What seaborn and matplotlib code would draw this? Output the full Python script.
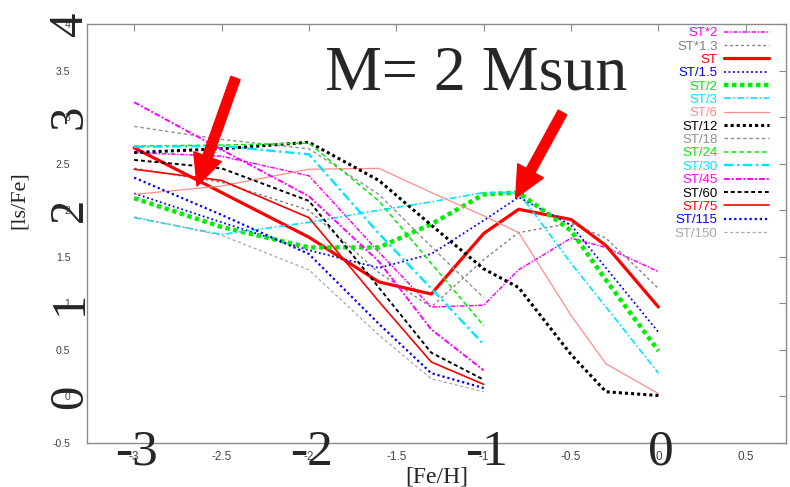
import matplotlib
matplotlib.use("Agg")
import matplotlib.pyplot as plt
import seaborn as sns

# [Fe/H] grid of the models (the low-13C models stop at -1)
x_full = [-3.0, -2.5, -2.0, -1.6, -1.3, -1.0, -0.8, -0.5, -0.3, 0.0]
x_low = [-3.0, -2.5, -2.0, -1.6, -1.3, -1.0]

# [ls/Fe]
st_x2 = [2.62, 2.58, 2.37, 1.55, 0.96, 0.98, 1.36, 1.70, 1.60, 1.34]
st_x13 = [2.45, 2.30, 2.00, 1.33, 0.96, 1.47, 1.76, 1.86, 1.70, 1.16]
st = [2.67, 2.19, 1.71, 1.23, 1.10, 1.75, 2.01, 1.90, 1.62, 0.96]
st_1_5 = [2.18, 1.87, 1.57, 1.38, 1.53, 1.89, 2.14, 1.84, 1.38, 0.69]
st_2 = [2.13, 1.82, 1.60, 1.60, 1.85, 2.17, 2.19, 1.78, 1.25, 0.49]
st_3 = [1.92, 1.74, 1.87, 2.00, 2.09, 2.19, 2.19, 1.43, 0.96, 0.25]
st_6 = [2.17, 2.26, 2.44, 2.45, 2.19, 1.94, 1.76, 0.87, 0.35, 0.03]
st_12 = [2.62, 2.66, 2.73, 2.32, 1.84, 1.37, 1.17, 0.45, 0.05, 0.01]
st_18 = [2.90, 2.76, 2.66, 2.17, 1.61, 1.06]
st_24 = [2.69, 2.70, 2.72, 2.10, 1.43, 0.76]
st_30 = [2.68, 2.69, 2.60, 1.75, 1.16, 0.56]
st_45 = [3.16, 2.65, 2.15, 1.45, 0.72, 0.28]
st_60 = [2.54, 2.45, 2.10, 1.17, 0.47, 0.18]
st_75 = [2.44, 2.32, 1.92, 1.02, 0.37, 0.13]
st_115 = [2.35, 1.95, 1.53, 0.78, 0.25, 0.09]
st_150 = [1.93, 1.73, 1.36, 0.66, 0.19, 0.05]

labels = ["ST*2", "ST*1.3", "ST", "ST/1.5", "ST/2", "ST/3", "ST/6", "ST/12",
          "ST/18", "ST/24", "ST/30", "ST/45", "ST/60", "ST/75", "ST/115", "ST/150"]
series = [st_x2, st_x13, st, st_1_5, st_2, st_3, st_6, st_12,
          st_18, st_24, st_30, st_45, st_60, st_75, st_115, st_150]
colors = ["#ff00ff", "#808080", "#ff0000", "#0000ff", "#00ee00", "#00e5ff", "#ff8c8c", "#000000",
          "#909090", "#00ee00", "#00e5ff", "#ff00ff", "#000000", "#ff0000", "#0000ff", "#a8a8a8"]
widths = [1.1, 1.0, 2.3, 1.3, 3.2, 1.2, 0.9, 2.2,
          1.0, 1.1, 1.7, 1.4, 1.4, 1.2, 1.6, 0.9]
dash_styles = [(3, 1, 1, 1), (2, 2), None, (1, 1.5), (1, 0.8), (4, 1.5, 1, 1.5), None, (1, 1),
               (2.5, 2), (3, 2), (4, 1.5, 1, 1.5), (3, 1, 1, 1), (2, 1.5), None, (1, 1.3), (2.5, 2)]

sns.set_style("white")
plt.rcParams["font.family"] = ["Liberation Sans", "DejaVu Sans"]
plt.rcParams["axes.unicode_minus"] = False

fig = plt.figure(figsize=(7.9, 4.87), dpi=100)
ax = fig.add_axes([87 / 790, 1 - 443 / 487, (786 - 87) / 790, (443 - 24) / 487])

for lab, ys, c, w, d in zip(labels, series, colors, widths, dash_styles):
    xs = x_full if len(ys) == len(x_full) else x_low
    ls = "-" if d is None else (0, d)
    sns.lineplot(x=xs, y=ys, color=c, linewidth=w, linestyle=ls, label=lab,
                 ax=ax, legend=False)

ax.set_xlim(-3.27, 0.73)
ax.set_ylim(-0.5, 4)
xt = [-3, -2.5, -2, -1.5, -1, -0.5, 0, 0.5]
yt = [-0.5, 0, 0.5, 1, 1.5, 2, 2.5, 3, 3.5, 4]
ax.set_xticks(xt)
ax.set_xticklabels(["%g" % v for v in xt])
ax.set_yticks(yt)
ax.set_yticklabels(["%g" % v for v in yt])
ax.tick_params(direction="in", length=5, width=0.8, color="#8a8a8a",
               top=True, right=True, labelcolor="#444444")
ax.tick_params(axis="y", pad=12, labelsize=7.5)
ax.tick_params(axis="x", pad=6, labelsize=8.5)
for s in ax.spines.values():
    s.set_color("#8a8a8a")
    s.set_linewidth(1.0)

ax.set_xlabel("[Fe/H]", family="Liberation Serif", fontsize=17)
ax.xaxis.set_label_coords(0.5, -0.057)
ax.set_ylabel("[ls/Fe]", family="Liberation Serif", fontsize=16)
ax.yaxis.set_label_coords(-0.083, 0.58)

# legend: coloured labels, line sample on the right
handles, labs = ax.get_legend_handles_labels()
leg = ax.legend(handles, labs, loc="upper right", bbox_to_anchor=(769 / 790, 1 - 27 / 487),
                bbox_transform=fig.transFigure, frameon=False, markerfirst=False,
                prop={"family": "Liberation Sans", "size": 9.5}, labelspacing=0.085,
                handlelength=3.4, handletextpad=0.5, borderpad=0, borderaxespad=0)
for t, c in zip(leg.get_texts(), colors):
    t.set_color(c)

# big overlaid axis numbers
for v in [-3, -2, -1, 0]:
    ax.text(v + 0.015, -0.735, "%d" % v, ha="center", va="baseline", fontsize=37,
            family="Liberation Serif", clip_on=False)
for v in [0, 1, 2, 3, 4]:
    ax.text(-3.30, v, "%d" % v, rotation=90, rotation_mode="anchor", ha="center",
            va="baseline", fontsize=35, family="Liberation Serif", clip_on=False)

ax.text(-1.91, 3.30, "M= 2 Msun", fontsize=46, family="Liberation Serif",
        ha="left", va="baseline")

arrow = dict(arrowstyle="simple,head_length=1.6,head_width=1.5,tail_width=0.5",
             color="red", mutation_scale=14, shrinkA=0, shrinkB=0)
ax.annotate("", xy=(-2.64, 2.26), xytext=(-2.42, 3.42), arrowprops=arrow)
ax.annotate("", xy=(-0.817, 2.13), xytext=(-0.549, 3.05), arrowprops=arrow)

fig.savefig("out.png", dpi=100)
